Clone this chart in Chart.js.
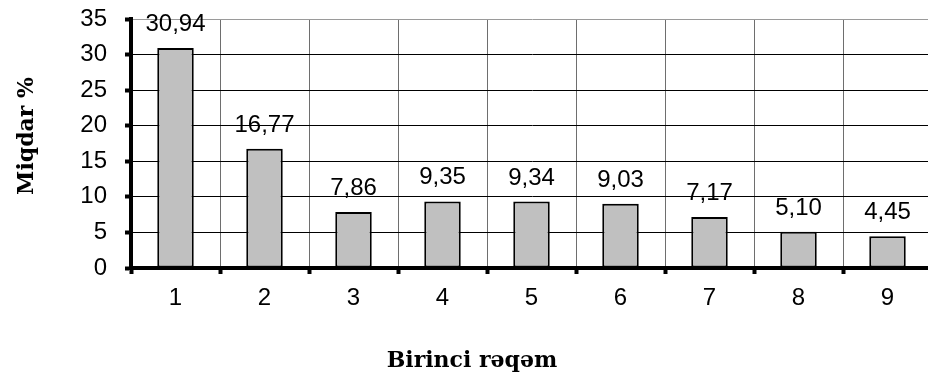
<!DOCTYPE html>
<html>
<head>
<meta charset="utf-8">
<script src="https://cdn.jsdelivr.net/npm/chart.js@4/dist/chart.umd.min.js"></script>
<style>
  html, body { margin: 0; padding: 0; background: #fff; overflow: hidden; }
  #wrap { width: 934px; height: 377px; }
</style>
</head>
<body>
<div id="wrap"><canvas id="digitChart"></canvas></div>
<script>
// first digit frequencies
const digits = ['1', '2', '3', '4', '5', '6', '7', '8', '9'];
const shares = [30.94, 16.77, 7.86, 9.35, 9.34, 9.03, 7.17, 5.10, 4.45];
const yTicks = [0, 5, 10, 15, 20, 25, 30, 35];

const xTitle = 'Birinci rəqəm';
const yTitle = 'Miqdar %';

const numFont = '"Liberation Sans", Arial, sans-serif';
const serifFont = '"DejaVu Serif", serif';

const valueLabels = {
    id: 'valueLabels',
    afterDatasetsDraw(chart) {
        const ctx = chart.ctx;
        const meta = chart.getDatasetMeta(0);
        ctx.save();
        ctx.fillStyle = '#000';
        ctx.font = '24px ' + numFont;
        ctx.textAlign = 'center';
        ctx.textBaseline = 'alphabetic';
        meta.data.forEach((bar, i) => {
            const txt = shares[i].toFixed(2).replace('.', ',');
            ctx.fillText(txt, bar.x, bar.y - 17);
        });
        ctx.restore();
    }
};

const axisTitles = {
    id: 'axisTitles',
    afterDraw(chart) {
        const ctx = chart.ctx;
        ctx.save();
        ctx.fillStyle = '#000';
        ctx.font = 'bold 22px ' + serifFont;
        ctx.textAlign = 'center';
        ctx.textBaseline = 'alphabetic';
        ctx.fillText(xTitle, 472, 367);
        ctx.translate(33, 136);
        ctx.rotate(-Math.PI / 2);
        ctx.fillText(yTitle, 0, 0);
        ctx.restore();
    }
};

const ctx = document.getElementById('digitChart').getContext('2d');
new Chart(ctx, {
    type: 'bar',
    data: {
        labels: digits,
        datasets: [{
            data: shares,
            backgroundColor: '#c0c0c0',
            borderColor: '#000',
            borderWidth: 2,
            borderSkipped: false,
            categoryPercentage: 1,
            barPercentage: 0.41
        }]
    },
    options: {
        responsive: true,
        maintainAspectRatio: false,
        animation: false,
        layout: { padding: { top: 19, right: 2, left: 0, bottom: 0 } },
        plugins: {
            legend: { display: false },
            tooltip: { enabled: false }
        },
        scales: {
            x: {
                grid: {
                    offset: true,
                    color: '#6e6e6e',
                    lineWidth: 1,
                    tickColor: '#000',
                    tickWidth: 4,
                    tickLength: 6
                },
                border: { color: '#000', width: 4 },
                ticks: {
                    color: '#000',
                    font: { family: numFont, size: 24 },
                    padding: 10
                },
                afterFit(scale) {
                    scale.height = 109;
                    scale.paddingLeft = 0;
                    scale.paddingRight = 0;
                }
            },
            y: {
                min: 0,
                max: 35,
                afterBuildTicks(scale) {
                    scale.ticks = yTicks.map(v => ({ value: v }));
                },
                grid: {
                    color: ctx => ctx.tick && ctx.tick.value === 35 ? '#9a9a9a' : '#000',
                    lineWidth: 1,
                    tickColor: '#000',
                    tickWidth: 4,
                    tickLength: 6
                },
                border: { color: '#000', width: 4 },
                ticks: {
                    color: '#000',
                    font: { family: numFont, size: 24 },
                    padding: 18
                },
                afterFit(scale) {
                    scale.width = 131;
                    scale.paddingTop = 0;
                    scale.paddingBottom = 0;
                }
            }
        }
    },
    plugins: [valueLabels, axisTitles]
});
</script>
</body>
</html>
